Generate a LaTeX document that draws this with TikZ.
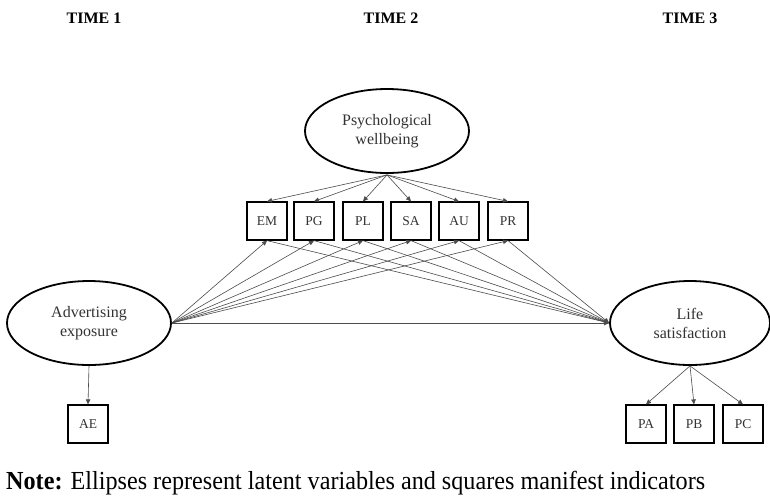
\documentclass[tikz,border=0pt]{standalone}
\usepackage{fontspec}
\setmainfont{Liberation Serif}
\usetikzlibrary{shapes.geometric,arrows.meta}
\tikzset{
  latent/.style={ellipse,draw=black,line width=1.8pt,minimum width=164pt,minimum height=84pt,inner sep=0pt,align=center,font=\fontsize{16}{19}\selectfont,text=black!80},
  manifest/.style={rectangle,draw=black,line width=1.2pt,minimum width=40pt,minimum height=38pt,inner sep=0pt,font=\fontsize{13.5}{15}\selectfont,text=black!80},
  path/.style={draw=black!70,line width=0.6pt,-{Triangle[length=5pt,width=4.5pt]}},
  timelabel/.style={font=\bfseries\fontsize{16}{18}\selectfont}
}
\begin{document}
\begin{tikzpicture}[x=1pt,y=1pt]
\useasboundingbox[fill=white] (0,0) rectangle (770,-499);
\node[timelabel] (t1) at (94,-18) {TIME 1};
\node[timelabel] (t2) at (391,-18) {TIME 2};
\node[timelabel] (t3) at (690,-18) {TIME 3};

\node[latent] (psy) at (387,-131) {Psychological\\wellbeing};
\node[latent] (adv) at (89,-323) {Advertising\\exposure};
\node[latent,minimum width=160pt] (life) at (690,-323) {Life\\satisfaction};

\foreach \n/\x in {EM/267,PG/314,PL/363,SA/411,AU/459,PR/508}{
  \node[manifest] (\n) at (\x,-221) {\n};
}
\node[manifest] (AE) at (88,-424) {AE};
\node[manifest] (PA) at (646,-424) {PA};
\node[manifest] (PB) at (694,-424) {PB};
\node[manifest] (PC) at (743,-424) {PC};

\coordinate (psyb) at ([yshift=-1pt]psy.south);
\foreach \n in {EM,PG,PL,SA,AU,PR}{
  \draw[path] (psyb) -- (\n.north);
  \draw[path] (adv.east) -- (\n.south);
  \draw[path] (\n.south) -- (life.west);
}
\draw[path] (adv.east) -- (life.west);
\draw[path] (adv.south) -- (AE.north);
\foreach \n in {PA,PB,PC}{
  \draw[path] (life.south) -- (\n.north);
}

\node[anchor=west,font=\fontsize{26}{28}\selectfont,inner sep=0pt] (note) at (6,-483) {\scalebox{0.93}[1]{\textbf{Note:} Ellipses represent latent variables and squares manifest indicators}};
\end{tikzpicture}
\end{document}
